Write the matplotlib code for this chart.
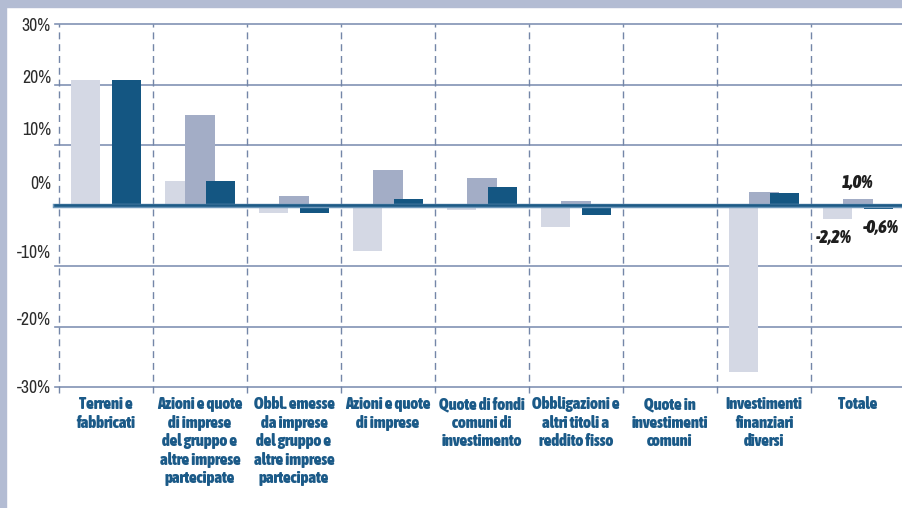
import matplotlib.pyplot as plt
import numpy as np
from matplotlib import font_manager
from matplotlib.font_manager import FontProperties
from matplotlib.patches import Rectangle

categorie = [
    "Terreni e\nfabbricati",
    "Azioni e quote\ndi imprese\ndel gruppo e\naltre imprese\npartecipate",
    "Obbl. emesse\nda imprese\ndel gruppo e\naltre imprese\npartecipate",
    "Azioni e quote\ndi imprese",
    "Quote di fondi\ncomuni di\ninvestimento",
    "Obbligazioni e\naltri titoli a\nreddito fisso",
    "Quote in\ninvestimenti\ncomuni",
    "Investimenti\nfinanziari\ndiversi",
    "Totale",
]
serie_chiara = [20.7, 4.1, -1.2, -7.6, -0.8, -3.5, 0.0, -27.6, -2.2]
serie_media = [0.0, 15.0, 1.5, 5.9, 4.6, 0.7, 0.0, 2.3, 1.0]
serie_scura = [20.7, 4.0, -1.2, 1.0, 3.0, -1.5, 0.0, 2.0, -0.6]

etichette_y = ["30%", "20%", "10%", "0%", "-10%", "-20%", "-30%"]
pos_etichette_y = [29.7, 21.0, 12.4, 3.6, -7.9, -19.0, -30.2]
griglia_y = [30, 20, 10, -10, -20, -30]

# etichette dei valori del totale
valori_totale = ["1,0%", "-2,2%", "-0,6%"]
pos_valori_totale = [(8.0, 3.8), (7.74, -5.3), (8.24, -3.8)]


def cerca_font(bold, italic):
    # cerca un font stretto (narrow / condensed) tra quelli installati
    cand = []
    for f in font_manager.fontManager.ttflist:
        stretto = ("Narrow" in f.name or "Condensed" in f.name
                   or "condensed" in str(f.stretch) or "Narrow" in f.fname
                   or "Condensed" in f.fname)
        if not stretto:
            continue
        w = f.weight if isinstance(f.weight, int) else font_manager.weight_dict.get(f.weight, 400)
        is_b = w >= 600
        is_i = f.style in ("italic", "oblique")
        if is_b == bold and is_i == italic:
            cand.append(f)
    if cand:
        cand.sort(key=lambda f: (("DejaVu" in f.name), f.name))
        return FontProperties(fname=cand[0].fname), True
    return FontProperties(family="DejaVu Sans",
                          weight="bold" if bold else "normal",
                          style="italic" if italic else "normal"), False


fp_tick, ok1 = cerca_font(False, False)
fp_cat, ok2 = cerca_font(True, False)
fp_val, ok3 = cerca_font(True, True)

C_CHIARO = "#d4d8e4"
C_MEDIO = "#a3adc6"
C_SCURO = "#145682"
C_GRIGLIA = "#8292b4"
C_TESTO = "#1b5a88"
C_CORNICE = "#b3bcd3"

W, H = 902, 508
fig = plt.figure(figsize=(W / 100, H / 100), dpi=100)
fig.patch.set_facecolor("white")
fig.patches.append(Rectangle((0, 0), 6 / W, 1, transform=fig.transFigure,
                             color=C_CORNICE, zorder=0))
fig.patches.append(Rectangle((0, 1 - 7 / H), 1, 7 / H, transform=fig.transFigure,
                             color=C_CORNICE, zorder=0))

ax = fig.add_axes([59 / W, 1 - 387 / H, 9 * 94 / W, (387 - 24) / H])
ax.set_xlim(-0.5, 8.5)
ax.set_ylim(-30, 30)
for s in ax.spines.values():
    s.set_visible(False)
ax.set_xticks([])
ax.set_yticks([])

x = np.arange(len(categorie))
larg = 0.31
off = 0.218
ax.bar(x - off, serie_chiara, larg, color=C_CHIARO, zorder=2)
ax.bar(x, serie_media, larg, color=C_MEDIO, zorder=3)
ax.bar(x + off, serie_scura, larg, color=C_SCURO, zorder=4)

# griglia orizzontale con piccolo tratto a sinistra
trans_y = ax.get_yaxis_transform()
for g in griglia_y:
    ax.plot([-4 / 846, 1.0], [g, g], transform=trans_y, color=C_GRIGLIA,
            lw=1.2, clip_on=False, zorder=1)
ax.plot([-4 / 846, 1.0], [0, 0], transform=trans_y, color="#6f98ba",
        lw=3.2, clip_on=False, zorder=5)
ax.plot([-4 / 846, 1.0], [0.15, 0.15], transform=trans_y, color="#1d5a86",
        lw=1.8, clip_on=False, zorder=6)

# separatori verticali tratteggiati
trans_x = ax.get_xaxis_transform()
for i in range(len(categorie)):
    ax.plot([i - 0.5, i - 0.5], [-6 / 363, 1.0], transform=trans_x,
            color="#7486a8", lw=1.0, ls=(0, (5, 3.5)), clip_on=False, zorder=1)

fp_tick.set_size(12.8 if ok1 else 10.5)
for lab, p in zip(etichette_y, pos_etichette_y):
    ax.text(-8 / 846, p, lab, transform=trans_y, ha="right", va="center",
            fontproperties=fp_tick, color="#2b2b2b", clip_on=False)

fp_cat.set_size(11.9 if ok2 else 8.6)
for i, lab in enumerate(categorie):
    ax.text(i, -31.5, lab, ha="center", va="top", fontproperties=fp_cat,
            color=C_TESTO, linespacing=1.2 if ok2 else 1.55, clip_on=False)

fp_val.set_size(13 if ok3 else 10)
for lab, (px, py) in zip(valori_totale, pos_valori_totale):
    ax.text(px, py, lab, ha="center", va="center", fontproperties=fp_val,
            color="#1e1e1e", zorder=7)

fig.savefig("out.png", dpi=100)
